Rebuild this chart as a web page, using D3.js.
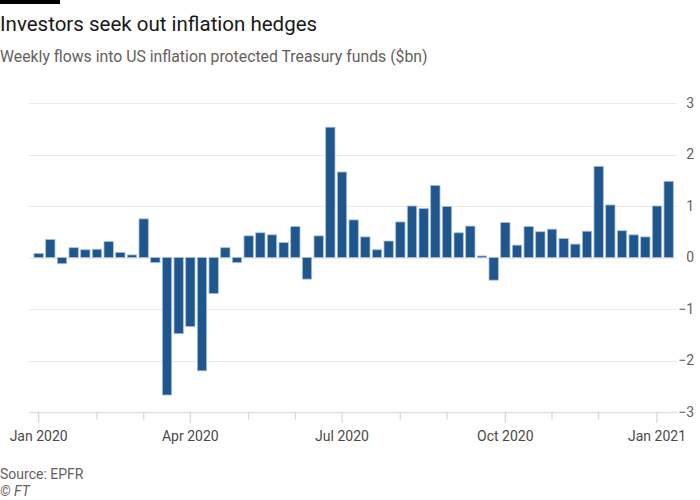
<!DOCTYPE html>
<html><head><meta charset="utf-8">
<script src="https://cdn.jsdelivr.net/npm/d3@7"></script>
<style>
html,body{margin:0;padding:0;background:#fff;}
svg{display:block;font-family:Roboto, "Noto Sans", sans-serif;}
</style></head>
<body><svg id="chart" width="700" height="500"></svg>
<script>
// Weekly dates (Wednesdays) from 1 Jan 2020 to 13 Jan 2021
const startDate = "2020-01-01";
const weekCount = 55;
// Weekly flows into US inflation protected Treasury funds ($bn)
const flows = [
  0.08, 0.35, -0.12, 0.19, 0.15, 0.16, 0.31, 0.10, 0.05, 0.75,
  -0.10, -2.67, -1.48, -1.34, -2.20, -0.70, 0.19, -0.10, 0.42, 0.48,
  0.44, 0.29, 0.60, -0.42, 0.42, 2.53, 1.66, 0.73, 0.40, 0.15,
  0.32, 0.69, 1.00, 0.95, 1.40, 0.99, 0.48, 0.61, 0.03, -0.44,
  0.68, 0.24, 0.60, 0.50, 0.55, 0.37, 0.26, 0.51, 1.77, 1.02,
  0.52, 0.44, 0.40, 1.00, 1.48
];
const yTicks = [-3, -2, -1, 0, 1, 2, 3];
const labelledMonths = ["Jan 2020", "Apr 2020", "Jul 2020", "Oct 2020", "Jan 2021"];

const parse = d3.utcParse("%Y-%m-%d");
const dates = d3.range(weekCount).map(i => d3.utcDay.offset(parse(startDate), 7 * i));
const data = dates.map((d, i) => ({date: d, value: flows[i]}));

const svg = d3.select("#chart");
const gridLeft = 29, gridRight = 677;

const x = d3.scaleBand()
  .domain(dates.map(d => +d))
  .range([32.83, 674.5])
  .paddingInner(0.2)
  .paddingOuter(0.1);

const y = d3.scaleLinear().domain([-3, 3]).range([412, 103]);

// Header
svg.append("rect").attr("x", 0).attr("y", 0).attr("width", 60).attr("height", 4).attr("fill", "#000");
svg.append("text").attr("x", 0).attr("y", 31)
  .attr("font-size", 20.5).attr("fill", "#1a1817")
  .text("Investors seek out inflation hedges");
svg.append("text").attr("x", 0).attr("y", 62)
  .attr("font-size", 15.8).attr("fill", "#66605c")
  .text("Weekly flows into US inflation protected Treasury funds ($bn)");

// Gridlines
const grid = svg.append("g");
grid.selectAll("line").data(yTicks).join("line")
  .attr("x1", gridLeft).attr("x2", gridRight)
  .attr("y1", d => Math.round(y(d)) + 0.5).attr("y2", d => Math.round(y(d)) + 0.5)
  .attr("stroke", d => d === -3 ? "#e6e0da" : "#efe9e4")
  .attr("stroke-width", d => d === -3 ? 1.5 : 1);

// Y axis labels (right)
const yAxis = d3.axisRight(y).tickValues(yTicks).tickSize(0).tickPadding(0).tickFormat(d3.format("d"));
const yg = svg.append("g").attr("transform", `translate(694,0)`).call(yAxis);
yg.select(".domain").remove();
yg.selectAll("text").attr("text-anchor", "end").attr("font-size", 14).attr("fill", "#66605c")
  .attr("font-family", "Roboto, sans-serif");

// X axis: tick at first week of each month
const monthFirst = [];
let lastMonth = null;
dates.forEach(d => {
  const m = d3.utcFormat("%Y-%m")(d);
  if (m !== lastMonth) { monthFirst.push(d); lastMonth = m; }
});
const fmt = d3.utcFormat("%b %Y");
const xAxis = d3.axisBottom(x)
  .tickValues(monthFirst.map(d => +d))
  .tickSize(0)
  .tickFormat(d => labelledMonths.includes(fmt(new Date(d))) ? fmt(new Date(d)) : "");
const xg = svg.append("g").attr("transform", "translate(0,412)").call(xAxis);
xg.select(".domain").remove();
xg.selectAll(".tick").attr("transform", d => `translate(${x(d) + x.bandwidth() / 2},0)`);
xg.selectAll(".tick line")
  .attr("y2", d => labelledMonths.includes(fmt(new Date(d))) ? 11 : 7.5)
  .attr("stroke", "#e0d8d0").attr("stroke-width", 1.3);
xg.selectAll(".tick text").attr("y", 29).attr("dy", 0)
  .attr("font-size", 14).attr("fill", "#4d4845")
  .attr("font-family", "Roboto, sans-serif");

// Bars
svg.append("g").selectAll("rect").data(data).join("rect")
  .attr("x", d => x(+d.date))
  .attr("width", x.bandwidth())
  .attr("y", d => y(Math.max(0, d.value)))
  .attr("height", d => Math.abs(y(d.value) - y(0)))
  .attr("fill", "#1f568d")
  .attr("stroke", "#a9bfd6")
  .attr("stroke-width", 0.8);

// Footer
svg.append("text").attr("x", 0).attr("y", 479).attr("font-size", 14).attr("fill", "#66605c").text("Source: EPFR");
svg.append("text").attr("x", 0).attr("y", 496).attr("font-size", 14).attr("font-style", "italic").attr("fill", "#66605c").text("© FT");
</script></body></html>
